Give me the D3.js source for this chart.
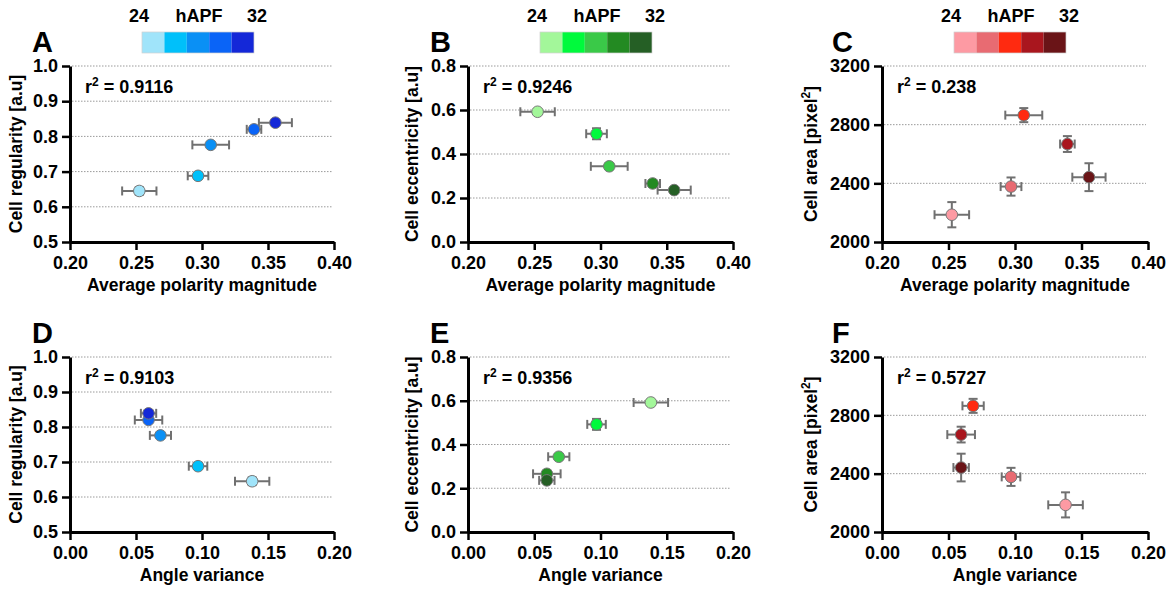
<!DOCTYPE html>
<html>
<head>
<meta charset="utf-8">
<script src="https://cdn.jsdelivr.net/npm/d3@7"></script>
<style>
  body { margin: 0; background: #fff; }
  svg { display: block; font-family: "Liberation Sans", Arial, sans-serif; font-weight: bold; }
</style>
</head>
<body>
<script>
  let width = 1173;
  let height = 590;

  // stages 24 -> 32 hAPF
  const stages = [24, 26, 28, 30, 32];
  const polarity = [0.2525, 0.297, 0.3066, 0.3394, 0.3556];
  const polaritySem = [0.013, 0.0078, 0.0139, 0.0055, 0.0125];
  const angleVar = [0.138, 0.097, 0.0685, 0.0595, 0.0595];
  const angleVarSem = [0.013, 0.007, 0.008, 0.0104, 0.0058];
  const regularity = [0.645, 0.688, 0.776, 0.820, 0.839];
  const regularitySem = [0.011, 0.008, 0.006, 0.006, 0.005];
  const eccentricity = [0.592, 0.492, 0.344, 0.266, 0.236];
  const eccentricitySem = [0.012, 0.025, 0.012, 0.015, 0.01];
  const area = [2186, 2378, 2865, 2668, 2442];
  const areaSem = [86, 62, 48, 54, 95];

  const blues = ["#a0e4fa", "#00c0fa", "#0a90f5", "#0a64f7", "#1428d8"];
  const greens = ["#a3f79a", "#00fa3c", "#3ac948", "#238a22", "#255f25"];
  const reds = ["#fd9aa3", "#e86b72", "#ff2a10", "#a9161e", "#6a1417"];

  const polTicks = [0.20, 0.25, 0.30, 0.35, 0.40];
  const angTicks = [0.00, 0.05, 0.10, 0.15, 0.20];
  const regTicks = [0.5, 0.6, 0.7, 0.8, 0.9, 1.0];
  const eccTicks = [0.0, 0.2, 0.4, 0.6, 0.8];
  const areaTicks = [2000, 2400, 2800, 3200];

  const svg = d3.select("body").append("svg")
    .attr("width", width).attr("height", height);

  function panel(p) {
    const x = d3.scaleLinear([p.xt[0], p.xt[p.xt.length - 1]], [p.left, p.right]);
    const y = d3.scaleLinear([p.yt[0], p.yt[p.yt.length - 1]], [p.bottom, p.top]);
    const g = svg.append("g");

    // dotted grid
    g.selectAll(".grid").data(p.yt.slice(1)).enter().append("line")
      .attr("x1", p.left + 2).attr("x2", p.right - 2)
      .attr("y1", d => y(d)).attr("y2", d => y(d))
      .attr("stroke", "#9a9a9a").attr("stroke-width", 1)
      .attr("stroke-dasharray", "1.5,1.5");

    const xa = g.append("g").attr("transform", "translate(0," + p.bottom + ")")
      .call(d3.axisBottom(x).tickValues(p.xt).tickFormat(d3.format(".2f")).tickSize(8).tickSizeOuter(0).tickPadding(6));
    const ya = g.append("g").attr("transform", "translate(" + p.left + ",0)")
      .call(d3.axisLeft(y).tickValues(p.yt).tickFormat(p.yf).tickSize(8).tickSizeOuter(0).tickPadding(4));
    [xa, ya].forEach(a => {
      a.select(".domain").attr("stroke", "#000").attr("stroke-width", 3);
      a.selectAll(".tick line").attr("stroke", "#000").attr("stroke-width", 2.5);
      a.selectAll("text").attr("fill", "#000").style("font-size", "18px")
        .style("font-family", "'Liberation Sans', Arial, sans-serif").style("font-weight", "bold");
    });

    const idx = d3.range(p.xs.length);
    const eb = g.append("g").attr("stroke", "#707070").attr("stroke-width", 2);
    const cap = 4.5;
    idx.forEach(i => {
      const cx = x(p.xs[i]), cy = y(p.ys[i]);
      const x0 = x(p.xs[i] - p.xe[i]), x1 = x(p.xs[i] + p.xe[i]);
      const y0 = y(p.ys[i] - p.ye[i]), y1 = y(p.ys[i] + p.ye[i]);
      eb.append("line").attr("x1", x0).attr("x2", x1).attr("y1", cy).attr("y2", cy);
      eb.append("line").attr("x1", x0).attr("x2", x0).attr("y1", cy - cap).attr("y2", cy + cap);
      eb.append("line").attr("x1", x1).attr("x2", x1).attr("y1", cy - cap).attr("y2", cy + cap);
      eb.append("line").attr("x1", cx).attr("x2", cx).attr("y1", y0).attr("y2", y1);
      eb.append("line").attr("x1", cx - cap).attr("x2", cx + cap).attr("y1", y0).attr("y2", y0);
      eb.append("line").attr("x1", cx - cap).attr("x2", cx + cap).attr("y1", y1).attr("y2", y1);
    });
    g.selectAll(".pt").data(idx).enter().append("circle")
      .attr("cx", i => x(p.xs[i])).attr("cy", i => y(p.ys[i])).attr("r", 5.8)
      .attr("fill", i => p.colors[i]).attr("stroke", "#777").attr("stroke-width", 1);

    // r squared
    const r2 = g.append("text").attr("x", p.left + 15).attr("y", p.top + 27)
      .style("font-size", "18px");
    r2.append("tspan").text("r");
    r2.append("tspan").attr("dy", -7).style("font-size", "12px").text("2");
    r2.append("tspan").attr("dy", 7).text(" = " + p.r2);

    // panel letter
    g.append("text").attr("x", p.left - p.letterDx).attr("y", p.top - 14)
      .style("font-size", "29px").text(p.letter);

    // axis titles
    g.append("text").attr("x", (p.left + p.right) / 2).attr("y", p.bottom + 49)
      .attr("text-anchor", "middle").style("font-size", "17.5px").text(p.xlab);
    const yl = g.append("text")
      .attr("transform", "translate(" + (p.left - p.ylabDx) + "," + (p.top + p.bottom) / 2 + ") rotate(-90)")
      .attr("text-anchor", "middle").style("font-size", "17.5px");
    yl.append("tspan").text(p.ylab[0]);
    if (p.ylab.length > 1) {
      yl.append("tspan").attr("dy", -7).style("font-size", "12px").text(p.ylab[1]);
      yl.append("tspan").attr("dy", 7).text(p.ylab[2]);
    }

    // hAPF colour bar
    if (p.bar) {
      const bx = d3.scaleBand(stages, [p.left + 72, p.left + 184]);
      g.selectAll(".sw").data(stages).enter().append("rect")
        .attr("x", d => bx(d)).attr("y", 32).attr("width", bx.bandwidth()).attr("height", 21)
        .attr("fill", (d, i) => p.colors[i]);
      g.append("rect").attr("x", p.left + 72).attr("y", 32).attr("width", 112).attr("height", 21)
        .attr("fill", "none").attr("stroke", "#d0d0d0").attr("stroke-width", 0.7);
      g.append("text").attr("x", p.left + 69).attr("y", 22).attr("text-anchor", "middle")
        .style("font-size", "18px").text(stages[0]);
      g.append("text").attr("x", p.left + 129).attr("y", 22).attr("text-anchor", "middle")
        .style("font-size", "18px").text("hAPF");
      g.append("text").attr("x", p.left + 187).attr("y", 22).attr("text-anchor", "middle")
        .style("font-size", "18px").text(stages[stages.length - 1]);
    }
  }

  const f1 = d3.format(".1f");
  const f0 = d3.format("d");
  const top1 = 66, bot1 = 242, top2 = 357, bot2 = 532;

  panel({ letter: "A", left: 70, right: 334, top: top1, bottom: bot1, xt: polTicks, yt: regTicks, yf: f1,
    xs: polarity, xe: polaritySem, ys: regularity, ye: regularitySem, colors: blues, r2: "0.9116",
    xlab: "Average polarity magnitude", ylab: ["Cell regularity [a.u]"], ylabDx: 48, letterDx: 38, bar: true });
  panel({ letter: "B", left: 468, right: 733, top: top1, bottom: bot1, xt: polTicks, yt: eccTicks, yf: f1,
    xs: polarity, xe: polaritySem, ys: eccentricity, ye: eccentricitySem, colors: greens, r2: "0.9246",
    xlab: "Average polarity magnitude", ylab: ["Cell eccentricity [a.u]"], ylabDx: 50, letterDx: 38, bar: true });
  panel({ letter: "C", left: 882, right: 1148, top: top1, bottom: bot1, xt: polTicks, yt: areaTicks, yf: f0,
    xs: polarity, xe: polaritySem, ys: area, ye: areaSem, colors: reds, r2: "0.238",
    xlab: "Average polarity magnitude", ylab: ["Cell area [pixel", "2", "]"], ylabDx: 65, letterDx: 50, bar: true });
  panel({ letter: "D", left: 70, right: 334, top: top2, bottom: bot2, xt: angTicks, yt: regTicks, yf: f1,
    xs: angleVar, xe: angleVarSem, ys: regularity, ye: regularitySem, colors: blues, r2: "0.9103",
    xlab: "Angle variance", ylab: ["Cell regularity [a.u]"], ylabDx: 48, letterDx: 38 });
  panel({ letter: "E", left: 468, right: 733, top: top2, bottom: bot2, xt: angTicks, yt: eccTicks, yf: f1,
    xs: angleVar, xe: angleVarSem, ys: eccentricity, ye: eccentricitySem, colors: greens, r2: "0.9356",
    xlab: "Angle variance", ylab: ["Cell eccentricity [a.u]"], ylabDx: 50, letterDx: 38 });
  panel({ letter: "F", left: 882, right: 1148, top: top2, bottom: bot2, xt: angTicks, yt: areaTicks, yf: f0,
    xs: angleVar, xe: angleVarSem, ys: area, ye: areaSem, colors: reds, r2: "0.5727",
    xlab: "Angle variance", ylab: ["Cell area [pixel", "2", "]"], ylabDx: 65, letterDx: 50 });
</script>
</body>
</html>
